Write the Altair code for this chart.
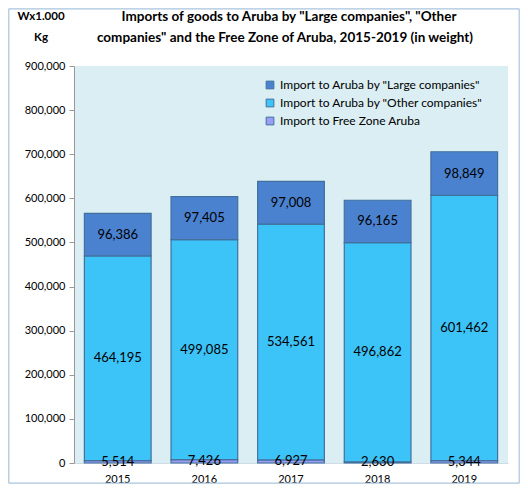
import altair as alt
import pandas as pd

years = ["2015", "2016", "2017", "2018", "2019"]
free_zone = [5514, 7426, 6927, 2630, 5344]
other_companies = [464195, 499085, 534561, 496862, 601462]
large_companies = [96386, 97405, 97008, 96165, 98849]

series_names = [
    'Import to Free Zone Aruba',
    'Import to Aruba by "Other companies"',
    'Import to Aruba by "Large companies"',
]
legend_order = [series_names[2], series_names[1], series_names[0]]
colors = {
    series_names[0]: "#9A9CF5",
    series_names[1]: "#3CC3F8",
    series_names[2]: "#4A82D0",
}
title_lines = ['Imports of goods to Aruba by "Large companies", "Other',
               'companies" and the Free Zone of Aruba, 2015-2019 (in weight)']
unit_lines = ["Wx1.000", "Kg"]

rows = []
for i, y in enumerate(years):
    start = 0
    for s, vals in zip(series_names, [free_zone, other_companies, large_companies]):
        v = vals[i]
        rows.append({"year": y, "series": s, "value": v, "start": start,
                     "end": start + v, "mid": start + v / 2,
                     "label": f"{v:,}", "ord": series_names.index(s)})
        start += v
df = pd.DataFrame(rows)

W, H = 434, 397
PL, PT, PR, PB = 66, 58, 12, 21
FONT = "Lato"

x_enc = alt.X("year:N", sort=years, title=None,
              scale=alt.Scale(paddingInner=0.23, paddingOuter=0.12),
              axis=alt.Axis(labelAngle=0, ticks=False, domain=True, domainColor="#D0DCE4",
                            labelFont=FONT, labelFontSize=11, labelColor="#000000", labelPadding=10))

bars = alt.Chart(df).mark_bar(stroke="#41719C", strokeWidth=1.2).encode(
    x=x_enc,
    y=alt.Y("start:Q", title=None,
            scale=alt.Scale(domain=[0, 900000], nice=False),
            axis=alt.Axis(values=list(range(0, 900001, 100000)), format=",d", grid=False,
                          domainColor="#999999", tickColor="#999999", tickSize=5,
                          labelFont=FONT, labelFontSize=11, labelColor="#000000", labelPadding=4)),
    y2="end:Q",
    color=alt.Color("series:N", sort=legend_order,
                    scale=alt.Scale(domain=legend_order, range=[colors[s] for s in legend_order]),
                    legend=alt.Legend(title=None, orient="none", legendX=190, legendY=13,
                                      symbolType="square", symbolSize=60, symbolStrokeColor="#41719C",
                                      symbolStrokeWidth=1, labelFont=FONT, labelFontSize=12,
                                      labelLimit=400, labelColor="#000000", rowPadding=6)),
    order=alt.Order("ord:Q"),
)

texts = alt.Chart(df).mark_text(font=FONT, fontSize=13, color="#000000", baseline="middle").encode(
    x=alt.X("year:N", sort=years),
    y=alt.Y("mid:Q"),
    text="label:N",
)

one = pd.DataFrame({"a": [0]})
FR = "#A9C4DE"
L, R, T, B = -PL + 0.8, W + PR - 0.8, -PT + 0.8, H + PB - 0.8
frame = [
    alt.Chart(one).mark_rule(color=FR, strokeWidth=1.2).encode(x=alt.value(L), y=alt.value(T), y2=alt.value(B)),
    alt.Chart(one).mark_rule(color=FR, strokeWidth=1.2).encode(x=alt.value(R), y=alt.value(T), y2=alt.value(B)),
    alt.Chart(one).mark_rule(color=FR, strokeWidth=1.2).encode(x=alt.value(L), x2=alt.value(R), y=alt.value(T)),
    alt.Chart(one).mark_rule(color=FR, strokeWidth=1.2).encode(x=alt.value(L), x2=alt.value(R), y=alt.value(B)),
]

title_df = pd.DataFrame({"t": title_lines})
title1 = alt.Chart(title_df.iloc[[0]]).mark_text(
    font=FONT, fontSize=13.5, fontWeight="bold", color="#000000", align="center", baseline="middle"
).encode(text="t:N", x=alt.value(W / 2 - 2), y=alt.value(-49))
title2 = alt.Chart(title_df.iloc[[1]]).mark_text(
    font=FONT, fontSize=13.5, fontWeight="bold", color="#000000", align="center", baseline="middle"
).encode(text="t:N", x=alt.value(W / 2 - 6), y=alt.value(-28))

unit_df = pd.DataFrame({"t": unit_lines})
unit1 = alt.Chart(unit_df.iloc[[0]]).mark_text(
    font=FONT, fontSize=11.5, fontWeight="bold", color="#000000", align="center", baseline="middle"
).encode(text="t:N", x=alt.value(-33), y=alt.value(-49))
unit2 = alt.Chart(unit_df.iloc[[1]]).mark_text(
    font=FONT, fontSize=11.5, fontWeight="bold", color="#000000", align="center", baseline="middle"
).encode(text="t:N", x=alt.value(-33), y=alt.value(-28))

chart = alt.layer(bars, texts, *frame, title1, title2, unit1, unit2).properties(
    width=W, height=H,
    autosize=alt.AutoSizeParams(type="none"),
    padding={"left": PL, "top": PT, "right": PR, "bottom": PB},
).configure_view(fill="#DAEEF3", stroke=None)

chart.save("out.html", embed_options={"renderer": "svg", "actions": False})
